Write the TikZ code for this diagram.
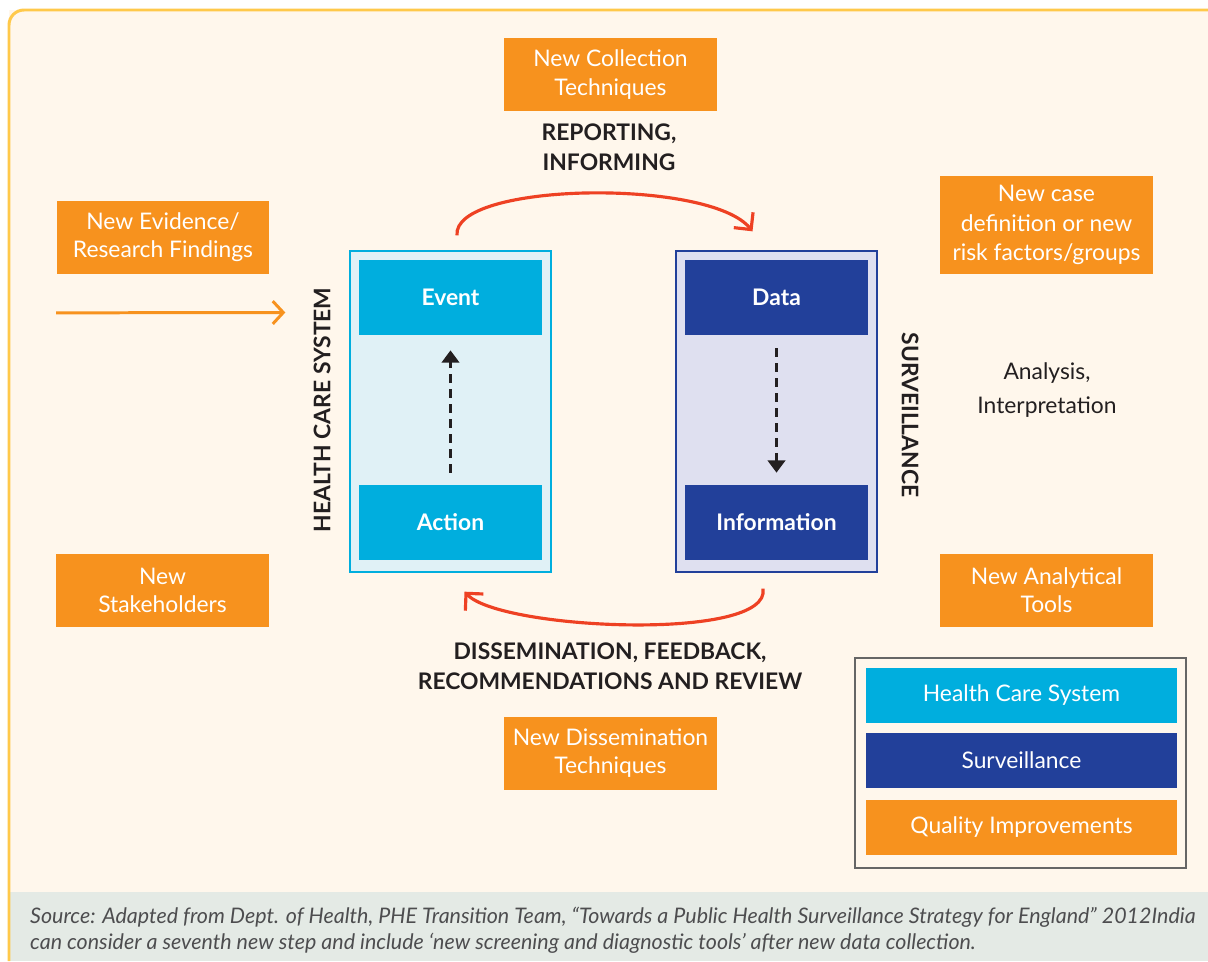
\documentclass[tikz,border=0pt]{standalone}
\usepackage{fontspec}
\setmainfont{Lato}
\usetikzlibrary{arrows.meta,calc}

\definecolor{qiorange}{HTML}{F7921E}
\definecolor{hcscyan}{HTML}{00AEDE}
\definecolor{survnavy}{HTML}{22409A}
\definecolor{hcspale}{HTML}{E0F1F6}
\definecolor{survpale}{HTML}{DFE0F0}
\definecolor{creambg}{HTML}{FFF7EC}
\definecolor{frameyellow}{HTML}{FFC94A}
\definecolor{footbg}{HTML}{E4EAE5}
\definecolor{loopred}{HTML}{EE4123}
\definecolor{inkdark}{HTML}{231F20}
\definecolor{footink}{HTML}{4D4D4F}

\begin{document}
\begin{tikzpicture}[x=0.02cm, y=-0.02cm,
	qibox/.style={fill=qiorange, text=white, minimum width=4.26cm, minimum height=1.46cm, align=center, inner sep=2pt, font=\fontsize{13}{16}\selectfont},
	stepbox/.style={minimum width=3.66cm, minimum height=1.5cm, text=white, font=\bfseries\fontsize{13}{16}\selectfont},
	panel/.style={minimum width=4.02cm, minimum height=6.42cm, line width=0.8pt},
	keybox/.style={minimum width=6.22cm, minimum height=1.1cm, text=white, font=\fontsize{13}{16}\selectfont},
	caps/.style={text=inkdark, align=center, font=\bfseries\fontsize{13}{17}\selectfont},
	loop/.style={draw=loopred, line width=1.8pt, -{Straight Barb[length=7pt, width=14pt]}},
	flow/.style={draw=inkdark, line width=1.4pt, dash pattern=on 5pt off 3.5pt, -{Triangle[length=7pt, width=10pt]}}]
		%%%%% START %%%%%
		\useasboundingbox (0,0) rectangle (1208,961);
		\fill[white] (0,0) rectangle (1208,961);
		
		% frame and footer
		\fill[creambg] (9,10) rectangle (1208,892);
		\fill[footbg] (9,892) rectangle (1208,961);
		\draw[frameyellow, line width=1.7pt, rounded corners=0.3cm] (9,961) -- (9,10) -- (1210,10);
		
		% the two panels
		\node[panel, draw=hcscyan, fill=hcspale] (hcs) at (450.5,411.5) {};
		\node[panel, draw=survnavy, fill=survpale] (surv) at (776.5,411.5) {};
		
		\node[stepbox, fill=hcscyan] (event) at (450.5,297.5) {Event};
		\node[stepbox, fill=hcscyan] (action) at (450.5,522.5) {Action};
		\node[stepbox, fill=survnavy] (data) at (776.5,297.5) {Data};
		\node[stepbox, fill=survnavy] (info) at (776.5,522.5) {Information};
		
		\draw[flow, shorten <=12pt*0.57, shorten >=15pt*0.57] (action.north) -- (event.south);
		\draw[flow, shorten <=13pt*0.57, shorten >=12pt*0.57] (data.south) -- (info.north);
		
		\node[caps, rotate=90] (hcslabel) at (322,410) {HEALTH CARE SYSTEM};
		\node[caps, rotate=-90] (survlabel) at (910,415) {SURVEILLANCE};
		
		% quality improvements
		\node[qibox] (collect) at (610.5,74.5) {New Collection\\Techniques};
		\node[qibox] (evidence) at (163,237) {New Evidence/\\Research Findings};
		\node[qibox, minimum height=1.96cm, font=\fontsize{13}{17}\selectfont] (casedef) at (1046.5,225) {New case\\definition or new\\risk factors/groups};
		\node[qibox] (stake) at (162.5,590.5) {New\\Stakeholders};
		\node[qibox] (tools) at (1046.5,590.5) {New Analytical\\Tools};
		\node[qibox] (dissem) at (610.5,753.5) {New Dissemination\\Techniques};
		
		\coordinate (evid in) at ($(evidence.south west)+(0,39)$);
		\draw[qiorange, line width=1.7pt, -{Straight Barb[length=6pt, width=13pt]}] (evid in) -- ($(hcs.west)+(-64,-99)$);
		
		% the loop
		\node[caps] (report) at (609,147) {REPORTING,\\INFORMING};
		\node[caps] (feedback) at (610,666) {DISSEMINATION, FEEDBACK,\\RECOMMENDATIONS AND REVIEW};
		\node[text=inkdark, align=center, font=\fontsize{13}{19}\selectfont] (analysis) at (1047,390) {Analysis,\\Interpretation};
		
		\coordinate (rep from) at ($(hcs.north)+(6.5,-15)$);
		\coordinate (rep to) at ($(surv.north)+(-24,-19)$);
		\draw[loop] (rep from) .. controls (452,182) and (710,178) .. (rep to);
		\coordinate (back from) at ($(surv.south)+(-13.5,16)$);
		\coordinate (back to) at ($(hcs.south)+(14,19)$);
		\draw[loop] (back from) .. controls (772,642) and (500,630) .. (back to);
		
		% key
		\node[draw=black!60, line width=0.8pt, minimum width=6.62cm, minimum height=4.2cm] (key) at (1020.5,763) {};
		\node[keybox, fill=hcscyan] (key hcs) at (1021.5,695.5) {Health Care System};
		\node[keybox, fill=survnavy] (key surv) at (1021.5,760.5) {Surveillance};
		\node[keybox, fill=qiorange] (key qi) at (1021.5,827.5) {Quality Improvements};
		
		% source
		\node[anchor=west, align=left, text=footink, font=\itshape\fontsize{12.2}{14.8}\selectfont] (source) at (24,930) {Source: Adapted from Dept. of Health, PHE Transition Team, “Towards a Public Health Surveillance Strategy for England” 2012India\\can consider a seventh new step and include ‘new screening and diagnostic tools’ after new data collection.};
		%%%%% END %%%%%
\end{tikzpicture}
\end{document}
